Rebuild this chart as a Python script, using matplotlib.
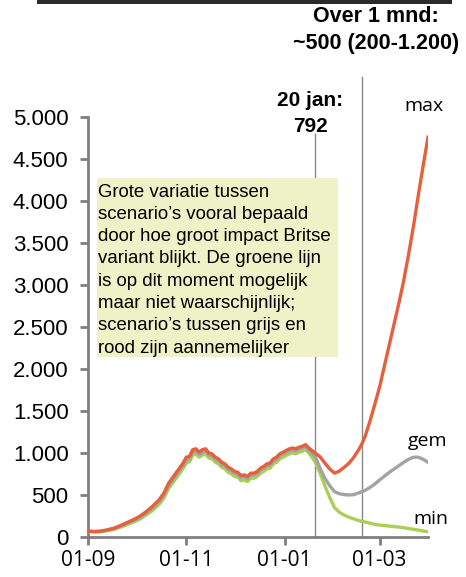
import numpy as np
import matplotlib
matplotlib.use('Agg')
import matplotlib.pyplot as plt
import matplotlib.patches as mpatches

plt.rc('font', family='Liberation Sans')

# days since 01-09-2020
days = [0, 4, 8, 12, 16, 20, 24, 28, 32, 36, 40, 44, 47, 50, 53, 56, 59, 61, 63, 65,
        67, 69, 71, 73, 75, 77, 79, 81, 83, 85, 87, 89, 91, 93, 95, 97, 99, 101, 103, 105,
        107, 109, 111, 113, 115, 117, 119, 121, 123, 125, 127, 129, 131, 133, 135, 137, 139,
        141, 144, 147, 150, 153, 156, 159, 162, 165, 168, 170, 172, 175, 178, 181, 184, 187,
        190, 193, 196, 199, 202, 205, 208, 211]

ic_max = [70, 65, 70, 85, 105, 135, 170, 205, 245, 300, 365, 440, 520, 640, 720, 800, 880, 950, 960, 1040,
          1050, 1010, 1040, 1050, 1000, 990, 950, 930, 890, 870, 830, 810, 780, 770, 730, 740, 720, 760, 760, 780,
          820, 840, 870, 880, 930, 950, 990, 1010, 1030, 1050, 1060, 1050, 1070, 1080, 1100, 1060, 1030,
          1000, 955, 880, 810, 760, 785, 830, 880, 950, 1040, 1110, 1200, 1380, 1580, 1790, 2040, 2290,
          2540, 2790, 3060, 3370, 3700, 4070, 4420, 4760]

ic_gem = [70, 65, 68, 82, 100, 128, 160, 195, 232, 285, 345, 418, 495, 612, 692, 772, 852, 920, 932, 1010,
          1022, 984, 1012, 1022, 975, 965, 925, 905, 866, 846, 806, 786, 756, 746, 706, 716, 696, 736, 736, 756,
          796, 816, 846, 856, 906, 926, 966, 986, 1006, 1026, 1036, 1026, 1046, 1056, 1075, 1035, 990,
          960, 820, 700, 610, 540, 515, 505, 500, 505, 525, 540, 555, 590, 630, 680, 725, 770,
          810, 850, 890, 925, 950, 950, 925, 890]

ic_min = [65, 60, 62, 75, 90, 115, 145, 175, 210, 260, 315, 385, 460, 575, 655, 735, 815, 880, 895, 975,
          985, 950, 975, 985, 940, 930, 890, 870, 830, 810, 770, 750, 720, 710, 670, 680, 660, 700, 700, 720,
          760, 780, 810, 820, 870, 890, 930, 950, 970, 990, 1000, 990, 1010, 1020, 1040, 1000, 950,
          890, 760, 610, 470, 350, 295, 260, 235, 215, 195, 185, 178, 165, 150, 142, 136, 130,
          124, 118, 110, 100, 92, 82, 72, 62]

tick_days = [0, 61, 122, 181]
tick_labels = ['01-09', '01-11', '01-01', '01-03']
y_ticks = [0, 500, 1000, 1500, 2000, 2500, 3000, 3500, 4000, 4500, 5000]
y_labels = ['0', '500', '1.000', '1.500', '2.000', '2.500', '3.000', '3.500', '4.000', '4.500', '5.000']

day_20jan = 141
day_1mnd = 170

box_lines = ['Grote variatie tussen',
             'scenario\u2019s vooral bepaald',
             'door hoe groot impact Britse',
             'variant blijkt. De groene lijn',
             'is op dit moment mogelijk',
             'maar niet waarschijnlijk;',
             'scenario\u2019s tussen grijs en',
             'rood zijn aannemelijker']

W, H = 466, 577
def fx(x):
    return x / W
def fy(y):
    return 1 - y / H

fig = plt.figure(figsize=(W / 100, H / 100), dpi=100)
ax = fig.add_axes([fx(88), fy(537), fx(428) - fx(88), fy(117) - fy(537)])

axc = '#7f7f7f'
ax.plot(days, ic_min, color='#A8D056', lw=2.4, zorder=3)
ax.plot(days, ic_gem, color='#A3A3A3', lw=2.4, zorder=4)
ax.plot(days, ic_max, color='#E5603D', lw=2.4, zorder=5)

ax.plot([day_20jan, day_20jan], [0, 4800], color='#888888', lw=1.0, zorder=1, clip_on=False)
ax.plot([day_1mnd, day_1mnd], [0, 5480], color='#888888', lw=1.0, zorder=1, clip_on=False)

ax.set_xlim(0, 211)
ax.set_ylim(0, 5000)
ax.set_xticks(tick_days)
ax.set_xticklabels(tick_labels, fontsize=15, family='Open Sans')
ax.set_yticks(y_ticks)
ax.set_yticklabels(y_labels, fontsize=16)
for s in ['top', 'right']:
    ax.spines[s].set_visible(False)
for s in ['left', 'bottom']:
    ax.spines[s].set_color(axc)
    ax.spines[s].set_linewidth(2.0)
ax.tick_params(axis='y', length=6, width=2.0, color=axc, pad=8)
ax.tick_params(axis='x', length=6, width=2.0, color=axc, pad=3)

# textbox
box = mpatches.Rectangle((fx(97), fy(357)), fx(338) - fx(97), fy(178) - fy(357),
                         transform=fig.transFigure, facecolor='#EEF2C6', edgecolor='none',
                         zorder=6, clip_on=False)
ax.add_patch(box)
for i, line in enumerate(box_lines):
    fig.text(fx(98), fy(192 + i * 22.3), line, fontsize=13.4, va='center', ha='left', zorder=7)

ax.text(fx(424), fy(106), 'max', transform=fig.transFigure, fontsize=14, family='Open Sans',
        ha='center', va='center')
ax.text(fx(428), fy(441), 'gem', transform=fig.transFigure, fontsize=14, family='Open Sans',
        ha='center', va='center')
ax.text(fx(431), fy(519), 'min', transform=fig.transFigure, fontsize=14, family='Open Sans',
        ha='center', va='center')

fig.text(fx(310), fy(100), '20 jan:', fontsize=15, weight='bold', ha='center', va='center')
fig.text(fx(310), fy(127), '792', fontsize=15, weight='bold', ha='center', va='center')
fig.text(fx(376), fy(17), 'Over 1 mnd:', fontsize=15.5, weight='bold', ha='center', va='center')
fig.text(fx(376), fy(44), '~500 (200-1.200)', fontsize=15.5, weight='bold', ha='center', va='center')

# dark bar on top
fig.patches.append(mpatches.Rectangle((fx(37), fy(3.5)), fx(452) - fx(37), fy(0) - fy(3.5),
                                      transform=fig.transFigure, facecolor='#2b2b2b',
                                      edgecolor='none', figure=fig))

fig.savefig('out.png', dpi=100)
